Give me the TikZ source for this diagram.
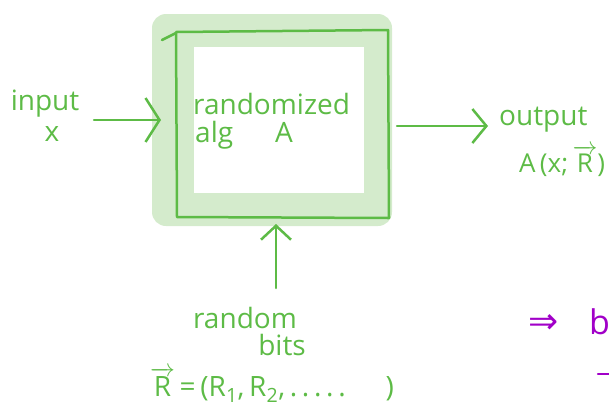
\documentclass[tikz,border=0pt]{standalone}
\usepackage{fontspec}
\usepackage{amsmath}
\setmainfont{Open Sans}
\newfontfamily\symfont{DejaVu Sans}
\usetikzlibrary{arrows.meta}
\definecolor{pen}{HTML}{5DBB46}
\definecolor{band}{HTML}{D4EBCC}
\definecolor{ink}{HTML}{A100C8}
\newcommand{\vecR}{$\overrightarrow{\text{R}}$}
\tikzset{
  every node/.style={text=pen, inner sep=0pt},
  hand/.style={font=\fontsize{28}{30}\selectfont},
  wire/.style={draw=pen, line width=2.5pt, line cap=round,
    -{Straight Barb[length=14pt,width=44pt,line width=2.5pt]}},
}
\begin{document}
\begin{tikzpicture}[x=1pt,y=-1pt]
\useasboundingbox (0,0) rectangle (609,413);
% highlighted frame behind the box
\fill[band, rounded corners=14pt] (152,14) rectangle (392,226);
\fill[white] (194,47) rectangle (364,193);
% the box itself
\draw[pen, line width=2.5pt, line join=round] (176,32) -- (388,30) -- (389,218) -- (177,217) -- cycle;
\draw[pen, line width=2.5pt, line cap=round] (162,40) -- (176,33);
\node[hand, anchor=west] (alg1) at (193,104) {randomized};
\node[hand, anchor=west] (alg2) at (195,135) {alg\hspace{42pt}A};
\coordinate (boxW) at (161,120);
\coordinate (boxE) at (397,126);
\coordinate (boxS) at (276,224);
% input
\node[hand] (in1) at (45,104) {input};
\node[hand] (in2) at (52,134) {x};
\coordinate (inEnd) at (94,120);
\draw[wire] (inEnd) -- (boxW);
% output
\coordinate (outEnd) at (488,126);
\draw[wire, -{Straight Barb[length=14pt,width=34pt,line width=2.5pt]}] (boxE) -- (outEnd);
\node[hand, anchor=west] (out1) at (499,120) {output};
\node[hand, anchor=west, font=\fontsize{26}{28}\selectfont] (out2) at (519,161) {A\,(x;\,\vecR)};
% random bits
\coordinate (bitsTop) at (276,288);
\draw[wire, -{Straight Barb[length=14pt,width=30pt,line width=2.5pt]}] (bitsTop) -- (boxS);
\node[hand] (rb1) at (245,318) {random};
\node[hand] (rb2) at (282,345) {bits};
\node[hand, anchor=west] (vec) at (150,385) {\vecR\,=\,(R\textsubscript{1},\,R\textsubscript{2},\,.\,.\,.\,.\,.\hspace{40pt})};
% purple note at the right edge
\node[text=ink, anchor=west, font=\symfont\fontsize{36}{38}\selectfont] (imp) at (528,324) {⇒};
\node[text=ink, anchor=west, font=\fontsize{34}{36}\selectfont] (bee) at (589,322) {b};
\draw[ink, line width=2.5pt, line cap=round] (598,374) -- (609,374);
\end{tikzpicture}
\end{document}
